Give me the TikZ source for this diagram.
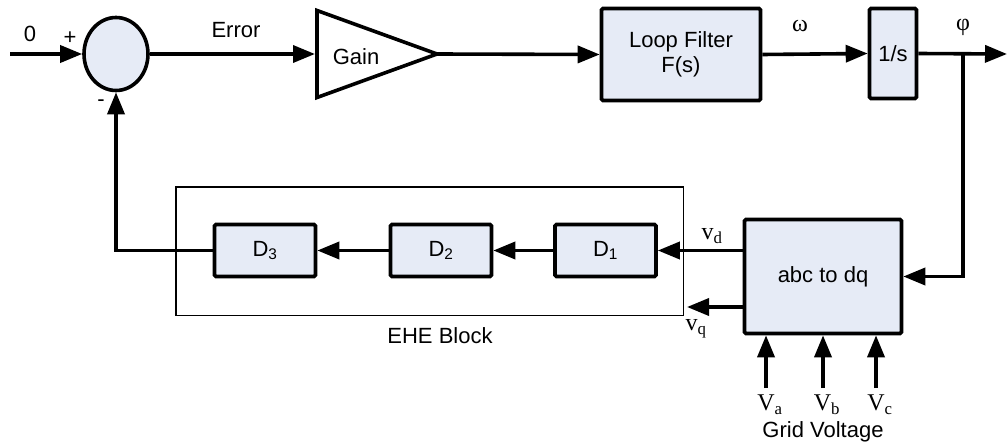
\documentclass[tikz,border=0pt]{standalone}
\usepackage{fontspec}
\setmainfont{Liberation Sans}
\newfontfamily\serifface{Liberation Serif}
\usetikzlibrary{arrows.meta,shapes.geometric}
\definecolor{blockfill}{RGB}{230,235,246}
\begin{document}
\begin{tikzpicture}[x=1pt,y=-1pt,
  every node/.style={font=\fontsize{22}{25}\selectfont},
  wire/.style={line width=3.6pt},
  tip/.style={-{Triangle[length=22pt,width=17pt]}},
  blockbox/.style={draw,line width=3.6pt,fill=blockfill,rounded corners=1.5pt,
    inner sep=0pt,align=center},
  lbl/.style={inner sep=0pt},
  sig/.style={inner sep=0pt,font=\serifface\fontsize{24}{26}\selectfont}]
\useasboundingbox (0,0) rectangle (1008,447);

% EHE block frame (drawn first so the wires cross over it)
\node[draw,line width=1.5pt,minimum width=507.5pt,minimum height=128.5pt,inner sep=0pt]
  (ehe) at (429.5,251) {};
\node[lbl] (ehelbl) at (440,336) {EHE Block};

% summing junction
\node[draw,line width=3.6pt,fill=blockfill,ellipse,minimum width=64pt,minimum height=73pt,
  inner sep=0pt] (sum) at (116,54) {};
\coordinate (inp) at (10,54);
\node[lbl] (zero) at (30,34) {0};
\node[lbl] (plus) at (70,38) {+};
\node[lbl] (minus) at (101,103) {-};

% gain triangle
\coordinate (gin) at (315,54);
\coordinate (gout) at (437,54);
\draw[wire,line join=miter,fill=white] (317,10.5) -- (317,97.5) -- (gout) -- cycle;
\node[lbl] (gainlbl) at (356,57) {Gain};
\node[lbl] (errlbl) at (236,30) {Error};

% forward path blocks
\node[blockbox,minimum width=159pt,minimum height=92pt] (lf) at (681,54.5)
  {Loop Filter\\F(s)};
\node[blockbox,minimum width=47pt,minimum height=90pt] (integ) at (893,53.5) {1/s};
\node[sig] (omega) at (800,26) {ω};
\node[sig] (phi) at (963,27) {φ};
\coordinate (outp) at (1007,54);
\coordinate (br) at (963,54);

% transformation block
\node[blockbox,minimum width=157pt,minimum height=114pt] (abc) at (823,276.5) {abc to dq};

% delay chain
\node[blockbox,minimum width=101pt,minimum height=52pt] (d1) at (605.5,250.5) {D\textsubscript{1}};
\node[blockbox,minimum width=101pt,minimum height=52pt] (d2) at (441,250.5) {D\textsubscript{2}};
\node[blockbox,minimum width=101pt,minimum height=52pt] (d3) at (265,250.5) {D\textsubscript{3}};

% forward connections
\draw[wire,tip] (inp) -- (sum.west);
\draw[wire,tip] (sum.east) -- (gin);
\draw[wire,tip] (gout) -- (lf.west);
\draw[wire,tip] (lf.east) -- (integ.west);
\draw[wire,tip] (integ.east) -- (outp);
\draw[wire,tip] (br) |- (abc.east);

% abc to dq outputs
\draw[wire,tip] (abc.west |- d1.east) -- (d1.east);
\node[sig] (vd) at (712,236) {v\textsubscript{d}};
\coordinate (vqend) at (687,307);
\draw[wire,tip] (abc.west |- vqend) -- (vqend);
\node[sig] (vq) at (696,329) {v\textsubscript{q}};

% delay chain and feedback
\draw[wire,tip] (d1.west) -- (d2.east);
\draw[wire,tip] (d2.west) -- (d3.east);
\draw[wire,tip] (d3.west) -| (sum.south);

% grid voltage inputs
\coordinate (ia) at (766,388);
\coordinate (ib) at (823,388);
\coordinate (ic) at (876,388);
\draw[wire,tip] (ia) -- (ia |- abc.south);
\draw[wire,tip] (ib) -- (ib |- abc.south);
\draw[wire,tip] (ic) -- (ic |- abc.south);
\node[sig] (va) at (770,405) {V\textsubscript{a}};
\node[sig] (vb) at (827,405) {V\textsubscript{b}};
\node[sig] (vc) at (880,405) {V\textsubscript{c}};
\node[lbl] (grid) at (823,432) {Grid Voltage};
\end{tikzpicture}
\end{document}
